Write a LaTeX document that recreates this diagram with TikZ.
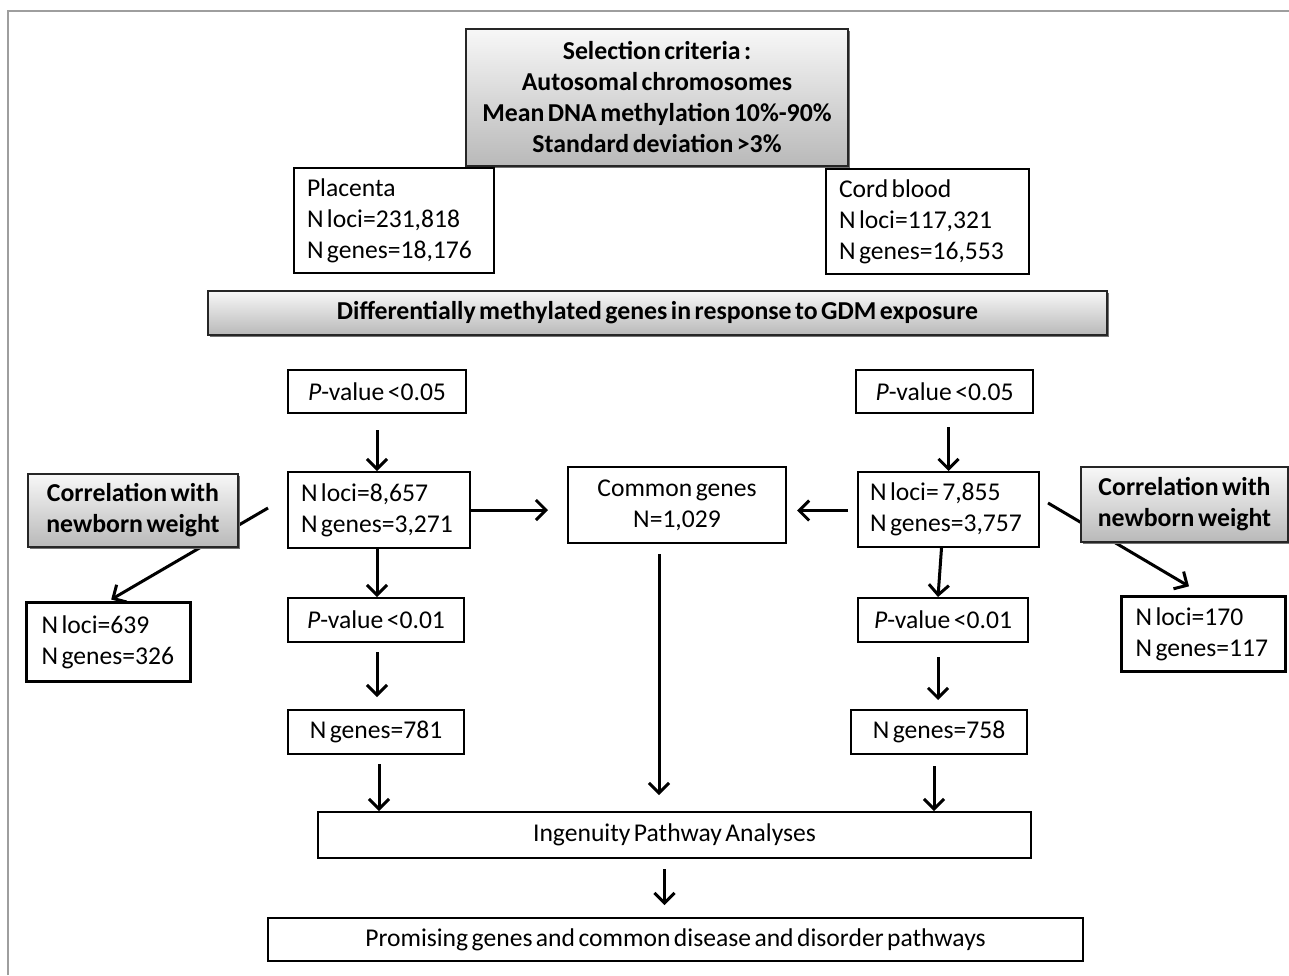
\documentclass[tikz,border=0pt]{standalone}
\usepackage{fontspec}
\setmainfont{Carlito}[WordSpace=0.6]
\usetikzlibrary{arrows.meta,shadows}
\newcommand{\nbl}[1]{\mbox{\spaceskip=0pt\xspaceskip=0pt #1}}
\begin{document}
\begin{tikzpicture}[x=1pt,y=-1pt,
  txt/.style={font=\fontsize{25.6}{31}\selectfont},
  box/.style={txt, draw=black, line width=2pt, fill=white, inner sep=0pt, anchor=north west, align=center},
  lbox/.style={box, align=left, inner xsep=13pt},
  thickbox/.style={line width=3.2pt},
  gbox/.style={box, draw=black!85, top color=gray!6, bottom color=gray!55,
    font=\bfseries\fontsize{25.8}{31}\selectfont,
    drop shadow={shadow xshift=2pt, shadow yshift=-2pt, fill=black!55, opacity=1}},
  arr/.style={line width=3pt, -{Straight Barb[length=10pt,width=20pt,line width=3pt]}},
  frame/.style={draw=black!38, line width=2pt}
]
\useasboundingbox (0,0) rectangle (1289,975);
\draw[frame] (8,975) -- (8,11) -- (1289,11);

% top section
\node[gbox, minimum width=382, minimum height=137] (sel) at (465,28)
  {Selection criteria :\\Autosomal chromosomes\\Mean DNA methylation 10\%-90\%\\Standard deviation >3\%};
\node[lbox, minimum width=200, minimum height=105, text width=174] (plac) at (293,167)
  {\nbl{Placenta}\\\nbl{N loci=231,818}\\\nbl{N genes=18,176}};
\node[lbox, minimum width=203, minimum height=105, text width=177] (cord) at (825,168)
  {\nbl{Cord blood}\\\nbl{N loci=117,321}\\\nbl{N genes=16,553}};
\node[gbox, minimum width=899, minimum height=44] (diff) at (207,290)
  {Differentially methylated genes in response to GDM exposure};

% p-value boxes
\node[box, minimum width=178, minimum height=43] (lp05) at (287,369) {\textit{P}-value <0.05};
\node[box, minimum width=177, minimum height=43] (rp05) at (855,369) {\textit{P}-value <0.05};

\node[lbox, minimum width=182, minimum height=76, text width=156] (lnl) at (287,471)
  {\nbl{N loci=8,657}\\\nbl{N genes=3,271}};
\node[box, minimum width=218, minimum height=76] (com) at (567,466)
  {Common genes\\N=1,029};
\node[lbox, minimum width=181, minimum height=75, text width=157, inner xsep=12pt] (rnl) at (857,471)
  {\nbl{N loci= 7,855}\\\nbl{N genes=3,757}};

% correlation arrows (behind boxes)
\coordinate (lcs) at (268,508);
\coordinate (rcs) at (1048,503);
\node[lbox, thickbox, minimum width=164, minimum height=79, text width=134, inner xsep=15pt] (l639) at (25,601)
  {\nbl{N loci=639}\\\nbl{N genes=326}};
\node[lbox, thickbox, minimum width=164, minimum height=75, text width=136, inner xsep=14pt] (r170) at (1120,595)
  {\nbl{N loci=170}\\\nbl{N genes=117}};
\draw[arr, shorten >=3pt] (lcs) -- (l639.north);
\draw[arr, shorten >=17pt] (rcs) -- (r170.north);
\node[gbox, minimum width=210, minimum height=73] (lcor) at (27,473)
  {Correlation with\\newborn weight};
\node[gbox, minimum width=207, minimum height=75] (rcor) at (1080,466)
  {Correlation with\\newborn weight};

\node[box, minimum width=176, minimum height=44] (lp01) at (287,597) {\textit{P}-value <0.01};
\node[box, minimum width=170, minimum height=44] (rp01) at (857,597) {\textit{P}-value <0.01};
\node[box, minimum width=176, minimum height=44] (l781) at (287,709) {N genes=781};
\node[box, minimum width=176, minimum height=44] (r758) at (850,709) {N genes=758};
\node[box, minimum width=713, minimum height=46] (ing) at (317,811) {Ingenuity Pathway Analyses};
\node[box, minimum width=815, minimum height=43] (prom) at (267,917)
  {Promising genes and common disease and disorder pathways};

% vertical arrows
\draw[arr, shorten <=16pt] (lp05.south) -- (lp05.south |- lnl.north);
\draw[arr] (lnl.south -| lp05.south) -- (lp05.south |- lp01.north);
\draw[arr, shorten <=9pt, shorten >=12pt] ([xshift=1pt]lp01.south) -- ([xshift=1pt]lp01.south |- l781.north);
\draw[arr, shorten <=9pt] ([xshift=3pt]l781.south) -- ([xshift=3pt]l781.south |- ing.north);

\draw[arr, shorten <=13pt] ([xshift=4pt]rp05.south) -- ([xshift=4pt]rp05.south |- rnl.north);
\draw[arr] ([xshift=-7pt]rnl.south) -- ([xshift=-5pt]rp01.north);
\draw[arr, shorten <=14pt, shorten >=9pt] ([xshift=-5pt]rp01.south) -- ([xshift=-5pt]rp01.south |- r758.north);
\draw[arr, shorten <=11pt] ([xshift=-5pt]r758.south) -- ([xshift=-5pt]r758.south |- ing.north);

\draw[arr, shorten <=10pt, shorten >=16pt] ([xshift=-18pt]com.south) -- ([xshift=-18pt]com.south |- ing.north);
\draw[arr, shorten <=10pt, shorten >=12pt] ([xshift=-10pt]ing.south) -- ([xshift=-10pt]ing.south |- prom.north);

% horizontal arrows
\draw[arr, shorten >=19pt] (lnl.east) -- (lnl.east -| com.west);
\draw[arr, shorten <=9pt, shorten >=10pt] ([yshift=-1pt]rnl.west) -- ([yshift=-1pt]rnl.west -| com.east);
\end{tikzpicture}
\end{document}
